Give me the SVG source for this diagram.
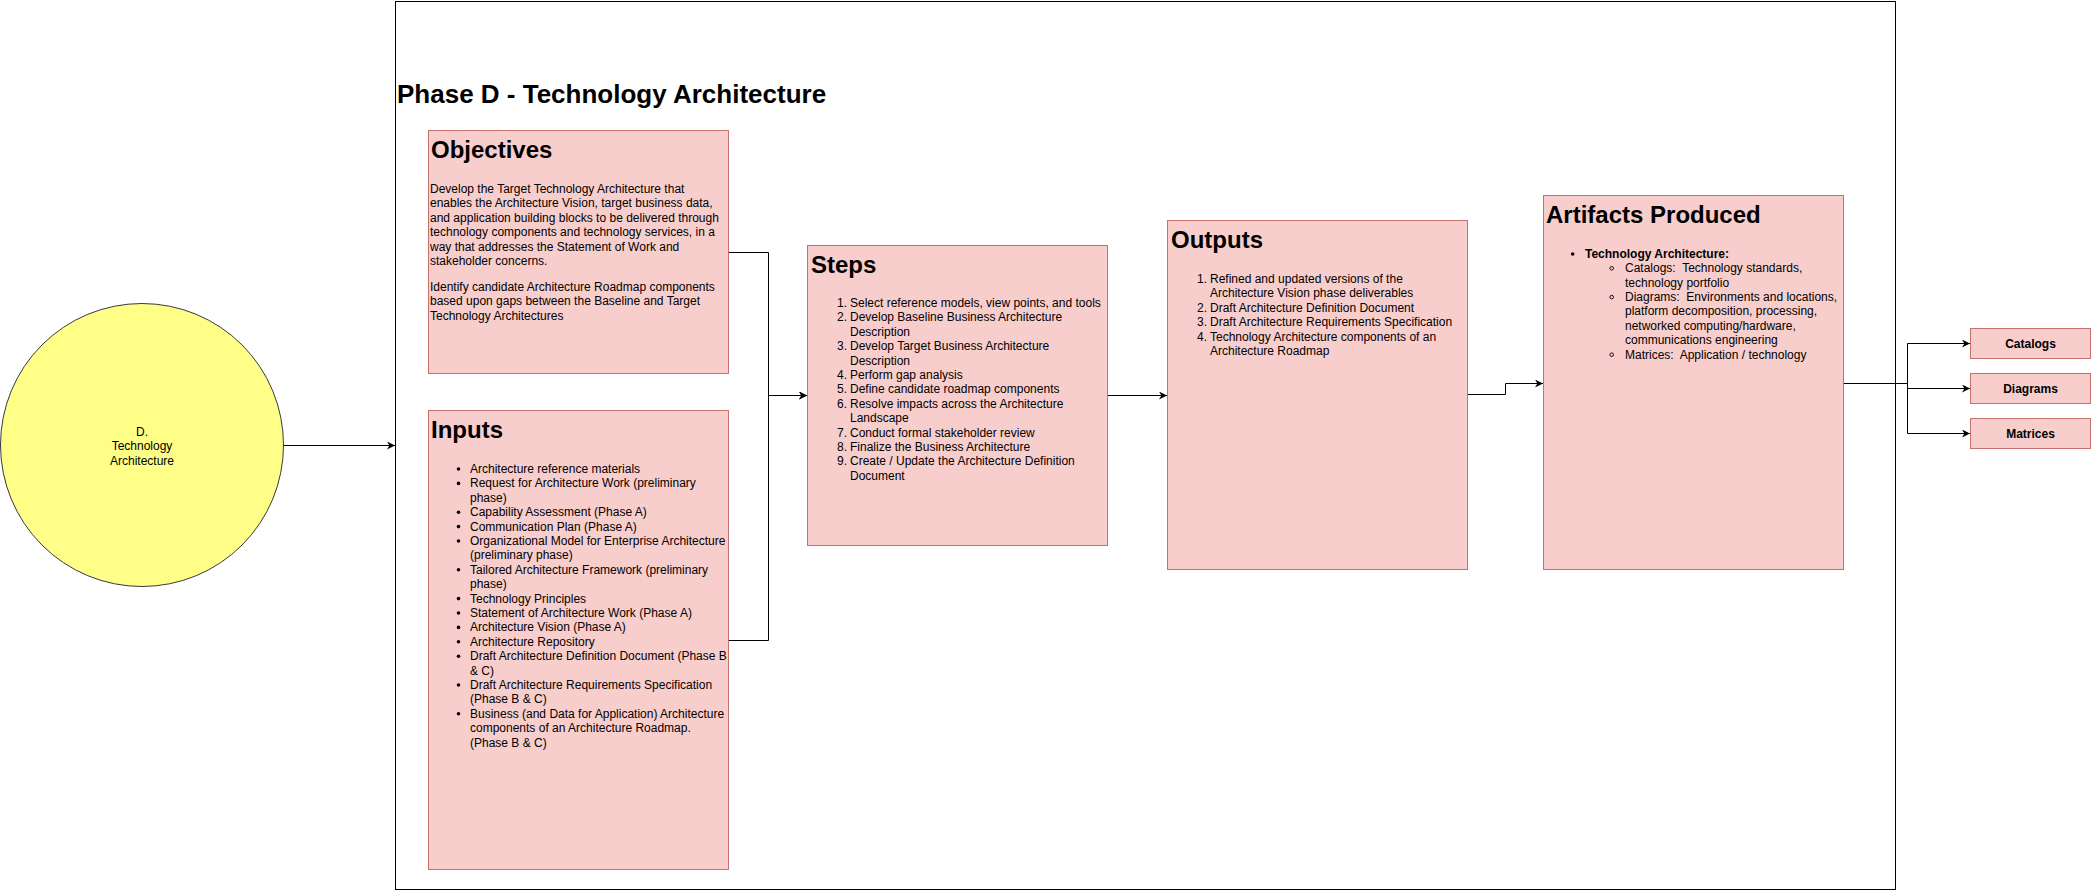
<svg xmlns="http://www.w3.org/2000/svg" width="2091" height="891" viewBox="0 0 2091 891">
<style>
text{font-family:"Liberation Sans",Arial,Helvetica,sans-serif;fill:#000}
.box{fill:#f8cecc;stroke:#b85450;stroke-width:1;stroke-opacity:0.8}
.h1{font-size:24px;font-weight:bold}
.t{font-size:12px}
.b{font-size:12px;font-weight:bold}
.edge{fill:none;stroke:#000;stroke-width:1}
.dot{fill:#000}
.odot{fill:none;stroke:#000;stroke-width:0.9}
</style>
<defs>
<marker id="arr" markerUnits="userSpaceOnUse" viewBox="0 0 10 10" refX="10" refY="5" markerWidth="9" markerHeight="8" orient="auto">
<path d="M0,0 L10,5 L0,10 L3,5 Z" fill="#000"/>
</marker>
</defs>
<rect width="2091" height="891" fill="#fff"/>

<g id="frame">
<rect x="395.5" y="1.5" width="1500" height="888" fill="none" stroke="#000" stroke-width="1"/>
<text x="397" y="103" style="font-size:26px;font-weight:bold">Phase D - Technology Architecture</text>
</g>

<g id="connectors">
<path class="edge" d="M284,445.5 L395,445.5" marker-end="url(#arr)"/>
<path class="edge" d="M728,252.5 L768.5,252.5 L768.5,395.5 L807,395.5" marker-end="url(#arr)"/>
<path class="edge" d="M728,640.5 L768.5,640.5 L768.5,395.5 L807,395.5" marker-end="url(#arr)"/>
<path class="edge" d="M1108,395.5 L1167,395.5" marker-end="url(#arr)"/>
<path class="edge" d="M1468,394.5 L1505.5,394.5 L1505.5,383.5 L1543,383.5" marker-end="url(#arr)"/>
<path class="edge" d="M1843,383.5 L1907.5,383.5 L1907.5,343.5 L1970,343.5" marker-end="url(#arr)"/>
<path class="edge" d="M1843,383.5 L1907.5,383.5 L1907.5,388.5 L1970,388.5" marker-end="url(#arr)"/>
<path class="edge" d="M1843,383.5 L1907.5,383.5 L1907.5,433.5 L1970,433.5" marker-end="url(#arr)"/>
</g>

<g id="phase-circle">
<circle cx="142" cy="445" r="141.5" fill="#ffff88" stroke="#36393d" stroke-width="1"/>
<text class="t" x="142" y="435.5" text-anchor="middle">D.</text>
<text class="t" x="142" y="450" text-anchor="middle">Technology</text>
<text class="t" x="142" y="464.5" text-anchor="middle">Architecture</text>
</g>

<g id="objectives">
<rect class="box" x="428.5" y="130.5" width="300" height="243"/>
<text class="h1" x="431" y="158">Objectives</text>
<text class="t" x="430" y="193">Develop the Target Technology Architecture that</text>
<text class="t" x="430" y="207.4">enables the Architecture Vision, target business data,</text>
<text class="t" x="430" y="221.8">and application building blocks to be delivered through</text>
<text class="t" x="430" y="236.2">technology components and technology services, in a</text>
<text class="t" x="430" y="250.6">way that addresses the Statement of Work and</text>
<text class="t" x="430" y="265">stakeholder concerns.</text>
<text class="t" x="430" y="291">Identify candidate Architecture Roadmap components</text>
<text class="t" x="430" y="305.4">based upon gaps between the Baseline and Target</text>
<text class="t" x="430" y="319.8">Technology Architectures</text>
</g>

<g id="inputs">
<rect class="box" x="428.5" y="410.5" width="300" height="459"/>
<text class="h1" x="431" y="438">Inputs</text>
<g class="dot">
<circle cx="458.5" cy="469" r="1.8"/>
<circle cx="458.5" cy="483.4" r="1.8"/>
<circle cx="458.5" cy="512.2" r="1.8"/>
<circle cx="458.5" cy="526.6" r="1.8"/>
<circle cx="458.5" cy="541" r="1.8"/>
<circle cx="458.5" cy="569.8" r="1.8"/>
<circle cx="458.5" cy="598.6" r="1.8"/>
<circle cx="458.5" cy="613" r="1.8"/>
<circle cx="458.5" cy="627.4" r="1.8"/>
<circle cx="458.5" cy="641.8" r="1.8"/>
<circle cx="458.5" cy="656.2" r="1.8"/>
<circle cx="458.5" cy="685" r="1.8"/>
<circle cx="458.5" cy="713.8" r="1.8"/>
</g>
<text class="t" x="470" y="473">Architecture reference materials</text>
<text class="t" x="470" y="487.4">Request for Architecture Work (preliminary</text>
<text class="t" x="470" y="501.8">phase)</text>
<text class="t" x="470" y="516.2">Capability Assessment (Phase A)</text>
<text class="t" x="470" y="530.6">Communication Plan (Phase A)</text>
<text class="t" x="470" y="545">Organizational Model for Enterprise Architecture</text>
<text class="t" x="470" y="559.4">(preliminary phase)</text>
<text class="t" x="470" y="573.8">Tailored Architecture Framework (preliminary</text>
<text class="t" x="470" y="588.2">phase)</text>
<text class="t" x="470" y="602.6">Technology Principles</text>
<text class="t" x="470" y="617">Statement of Architecture Work (Phase A)</text>
<text class="t" x="470" y="631.4">Architecture Vision (Phase A)</text>
<text class="t" x="470" y="645.8">Architecture Repository</text>
<text class="t" x="470" y="660.2">Draft Architecture Definition Document (Phase B</text>
<text class="t" x="470" y="674.6">&amp; C)</text>
<text class="t" x="470" y="689">Draft Architecture Requirements Specification</text>
<text class="t" x="470" y="703.4">(Phase B &amp; C)</text>
<text class="t" x="470" y="717.8">Business (and Data for Application) Architecture</text>
<text class="t" x="470" y="732.2">components of an Architecture Roadmap.</text>
<text class="t" x="470" y="746.6">(Phase B &amp; C)</text>
</g>

<g id="steps">
<rect class="box" x="807.5" y="245.5" width="300" height="300"/>
<text class="h1" x="811" y="273">Steps</text>
<g text-anchor="end">
<text class="t" x="847" y="307">1.</text>
<text class="t" x="847" y="321.4">2.</text>
<text class="t" x="847" y="350.2">3.</text>
<text class="t" x="847" y="379">4.</text>
<text class="t" x="847" y="393.4">5.</text>
<text class="t" x="847" y="407.8">6.</text>
<text class="t" x="847" y="436.6">7.</text>
<text class="t" x="847" y="451">8.</text>
<text class="t" x="847" y="465.4">9.</text>
</g>
<text class="t" x="850" y="307">Select reference models, view points, and tools</text>
<text class="t" x="850" y="321.4">Develop Baseline Business Architecture</text>
<text class="t" x="850" y="335.8">Description</text>
<text class="t" x="850" y="350.2">Develop Target Business Architecture</text>
<text class="t" x="850" y="364.6">Description</text>
<text class="t" x="850" y="379">Perform gap analysis</text>
<text class="t" x="850" y="393.4">Define candidate roadmap components</text>
<text class="t" x="850" y="407.8">Resolve impacts across the Architecture</text>
<text class="t" x="850" y="422.2">Landscape</text>
<text class="t" x="850" y="436.6">Conduct formal stakeholder review</text>
<text class="t" x="850" y="451">Finalize the Business Architecture</text>
<text class="t" x="850" y="465.4">Create / Update the Architecture Definition</text>
<text class="t" x="850" y="479.8">Document</text>
</g>

<g id="outputs">
<rect class="box" x="1167.5" y="220.5" width="300" height="349"/>
<text class="h1" x="1171" y="248">Outputs</text>
<g text-anchor="end">
<text class="t" x="1207" y="283">1.</text>
<text class="t" x="1207" y="311.8">2.</text>
<text class="t" x="1207" y="326.2">3.</text>
<text class="t" x="1207" y="340.6">4.</text>
</g>
<text class="t" x="1210" y="283">Refined and updated versions of the</text>
<text class="t" x="1210" y="297.4">Architecture Vision phase deliverables</text>
<text class="t" x="1210" y="311.8">Draft Architecture Definition Document</text>
<text class="t" x="1210" y="326.2">Draft Architecture Requirements Specification</text>
<text class="t" x="1210" y="340.6">Technology Architecture components of an</text>
<text class="t" x="1210" y="355">Architecture Roadmap</text>
</g>

<g id="artifacts">
<rect class="box" x="1543.5" y="195.5" width="300" height="374"/>
<text class="h1" x="1546" y="223">Artifacts Produced</text>
<circle class="dot" cx="1572.7" cy="254" r="1.8"/>
<text class="b" x="1585" y="258">Technology Architecture:</text>
<circle class="odot" cx="1611.7" cy="268.3" r="1.8"/>
<circle class="odot" cx="1611.7" cy="297.1" r="1.8"/>
<circle class="odot" cx="1611.7" cy="354.7" r="1.8"/>
<text class="t" x="1625" y="272.2" xml:space="preserve">Catalogs:  Technology standards,</text>
<text class="t" x="1625" y="286.6">technology portfolio</text>
<text class="t" x="1625" y="301" xml:space="preserve">Diagrams:  Environments and locations,</text>
<text class="t" x="1625" y="315.4">platform decomposition, processing,</text>
<text class="t" x="1625" y="329.8">networked computing/hardware,</text>
<text class="t" x="1625" y="344.2">communications engineering</text>
<text class="t" x="1625" y="358.6" xml:space="preserve">Matrices:  Application / technology</text>
</g>

<g id="catalogs">
<rect class="box" x="1970.5" y="328.5" width="120" height="30"/>
<text class="b" x="2030.5" y="347.5" text-anchor="middle">Catalogs</text>
</g>
<g id="diagrams">
<rect class="box" x="1970.5" y="373.5" width="120" height="30"/>
<text class="b" x="2030.5" y="392.5" text-anchor="middle">Diagrams</text>
</g>
<g id="matrices">
<rect class="box" x="1970.5" y="418.5" width="120" height="30"/>
<text class="b" x="2030.5" y="437.5" text-anchor="middle">Matrices</text>
</g>
</svg>
